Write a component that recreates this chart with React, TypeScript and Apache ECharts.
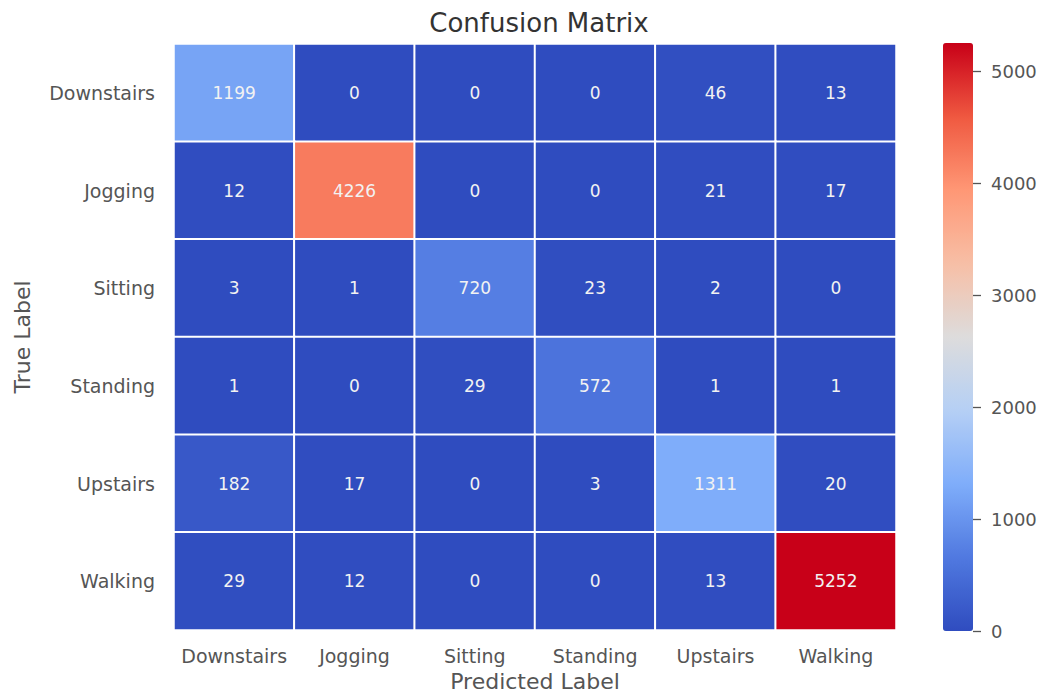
import React, { useEffect, useRef } from "react";
import * as echarts from "echarts";

const categories = ["Downstairs", "Jogging", "Sitting", "Standing", "Upstairs", "Walking"];
const rowDownstairs = [1199, 0, 0, 0, 46, 13];
const rowJogging = [12, 4226, 0, 0, 21, 17];
const rowSitting = [3, 1, 720, 23, 2, 0];
const rowStanding = [1, 0, 29, 572, 1, 1];
const rowUpstairs = [182, 17, 0, 3, 1311, 20];
const rowWalking = [29, 12, 0, 0, 13, 5252];
const rows = [rowDownstairs, rowJogging, rowSitting, rowStanding, rowUpstairs, rowWalking];
const colorbarTicks = [0, 1000, 2000, 3000, 4000, 5000];
const vMax = 5252;

const coolwarm = [
  "#2f4cbf",
  "#5079e0",
  "#7fadfa",
  "#b5cff5",
  "#dddcdc",
  "#f7bfa6",
  "#ff9775",
  "#ef5840",
  "#c80018",
];

const FONT = "DejaVu Sans";

export default function App() {
  const ref = useRef<HTMLDivElement>(null);
  useEffect(() => {
    if (!ref.current) return;
    const chart = echarts.init(ref.current, undefined, { renderer: "svg" });
    const data: number[][] = [];
    rows.forEach((r, yi) => r.forEach((v, xi) => data.push([xi, yi, v])));
    chart.setOption({
      animation: false,
      backgroundColor: "#ffffff",
      textStyle: { fontFamily: FONT },
      title: {
        text: "Confusion Matrix",
        left: 534,
        top: 5,
        textAlign: "center",
        textStyle: { fontFamily: FONT, fontSize: 26, fontWeight: "normal", color: "#333333" },
      },
      grid: [
        { left: 174, top: 44, width: 722, height: 586, outerBoundsMode: "none", containLabel: false },
        { left: 943, top: 43, width: 30, height: 588, outerBoundsMode: "none", containLabel: false },
      ],
      xAxis: [
        {
          type: "category",
          data: categories,
          gridIndex: 0,
          position: "bottom",
          axisLine: { show: false },
          axisTick: { show: false },
          splitLine: { show: false },
          axisLabel: { fontFamily: FONT, fontSize: 19, color: "#555555", margin: 16, interval: 0 },
          name: "Predicted Label",
          nameLocation: "middle",
          nameGap: 40,
          nameTextStyle: { fontFamily: FONT, fontSize: 22, color: "#555555" },
        },
        { type: "category", data: ["cb"], gridIndex: 1, show: false },
      ],
      yAxis: [
        {
          type: "category",
          data: categories,
          inverse: true,
          gridIndex: 0,
          axisLine: { show: false },
          axisTick: { show: false },
          splitLine: { show: false },
          axisLabel: { fontFamily: FONT, fontSize: 19, color: "#555555", margin: 19, interval: 0 },
          name: "True Label",
          nameLocation: "middle",
          nameRotate: 90,
          nameGap: 141,
          nameTextStyle: { fontFamily: FONT, fontSize: 22, color: "#555555" },
        },
        {
          type: "value",
          gridIndex: 1,
          position: "right",
          min: 0,
          max: vMax,
          interval: 1000,
          axisLine: { show: true, onZero: false, lineStyle: { color: "rgba(0,0,0,0)" } },
          axisTick: {
            show: true,
            length: 8,
            customValues: colorbarTicks,
            lineStyle: { color: "#555555", width: 1.3 },
          },
          splitLine: { show: false },
          axisLabel: {
            fontFamily: FONT,
            fontSize: 18,
            color: "#555555",
            margin: 18,
            customValues: colorbarTicks,
            formatter: (v: number) => (colorbarTicks.includes(v) ? String(v) : ""),
          },
        },
      ],
      visualMap: {
        type: "continuous",
        min: 0,
        max: vMax,
        seriesIndex: 0,
        calculable: false,
        hoverLink: false,
        left: 943,
        top: 43,
        padding: 0,
        itemWidth: 30,
        itemHeight: 588,
        text: ["", ""],
        indicatorSize: 0,
        indicatorStyle: { opacity: 0 },
        inRange: { color: coolwarm },
      },
      series: [
        {
          type: "heatmap",
          xAxisIndex: 0,
          yAxisIndex: 0,
          data,
          itemStyle: { borderColor: "#ffffff", borderWidth: 2 },
          label: {
            show: true,
            fontFamily: FONT,
            fontSize: 17,
            color: "#f2f2f2",
            formatter: (p: any) => String(p.value[2]),
          },
          emphasis: { disabled: true },
        },
        {
          type: "scatter",
          xAxisIndex: 1,
          yAxisIndex: 1,
          data: [],
          silent: true,
        },
      ],
    });
    return () => chart.dispose();
  }, []);
  return (
    <div
      ref={ref}
      style={{ position: "fixed", left: 0, top: 0, width: 1041, height: 693 }}
    />
  );
}
